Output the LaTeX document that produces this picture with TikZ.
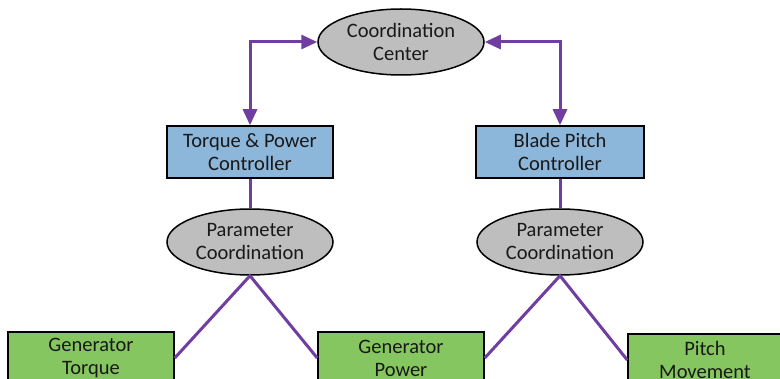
\documentclass[tikz,border=0pt]{standalone}
\usepackage{fontspec}
\setmainfont{Carlito}
\usetikzlibrary{shapes.geometric, arrows.meta}
\definecolor{linkpurple}{RGB}{112,62,160}
\definecolor{ctrlblue}{RGB}{141,182,219}
\definecolor{actgreen}{RGB}{134,198,96}
\definecolor{coordgray}{RGB}{190,190,190}

\begin{document}
\begin{tikzpicture}[
    x=1pt, y=-1pt,
    font=\fontsize{20.5}{23}\selectfont,
    base_node/.style ={draw=black, line width=1.5pt, align=center, inner sep=0pt, text=black!90},
    coord_ell/.style ={base_node, ellipse, fill=coordgray, minimum width=166pt, minimum height=66pt},
    ctrl_box/.style  ={base_node, rectangle, fill=ctrlblue, minimum height=52pt},
    act_box/.style   ={base_node, rectangle, fill=actgreen, minimum height=52pt},
    link/.style      ={draw=linkpurple, line width=3pt},
    link_arr/.style  ={link, {Triangle[length=16pt,width=14pt]}-{Triangle[length=16pt,width=14pt]}}
]
\clip (0,0) rectangle (780,379);

% Coordination layer
\node[coord_ell] (center_coord) at (401,42) {Coordination\\Center};

% Controllers
\node[ctrl_box, minimum width=166pt] (ctrl_torque) at (250,152) {Torque \& Power\\Controller};
\node[ctrl_box, minimum width=168pt] (ctrl_pitch) at (560,152) {Blade Pitch\\Controller};

% Parameter coordination
\node[coord_ell] (par_left) at (250,242) {Parameter\\Coordination};
\node[coord_ell] (par_right) at (560,242) {Parameter\\Coordination};

% Actuated quantities
\node[act_box, minimum width=166pt] (gen_torque) at (91,358) {Generator\\Torque};
\node[act_box, minimum width=166pt] (gen_power) at (401,358) {Generator\\Power};
\node[act_box, minimum width=154pt] (pitch_move) at (705,360) {Pitch\\Movement};

% Links
\draw[link_arr] (ctrl_torque.north) |- (center_coord.west);
\draw[link_arr] (ctrl_pitch.north) |- (center_coord.east);
\draw[link] (ctrl_torque.south) -- (par_left.north);
\draw[link] (ctrl_pitch.south) -- (par_right.north);
\draw[link] (gen_torque.east) -- (par_left.south) -- (gen_power.west);
\draw[link] (gen_power.east) -- (par_right.south) -- (pitch_move.west);

\end{tikzpicture}
\end{document}
